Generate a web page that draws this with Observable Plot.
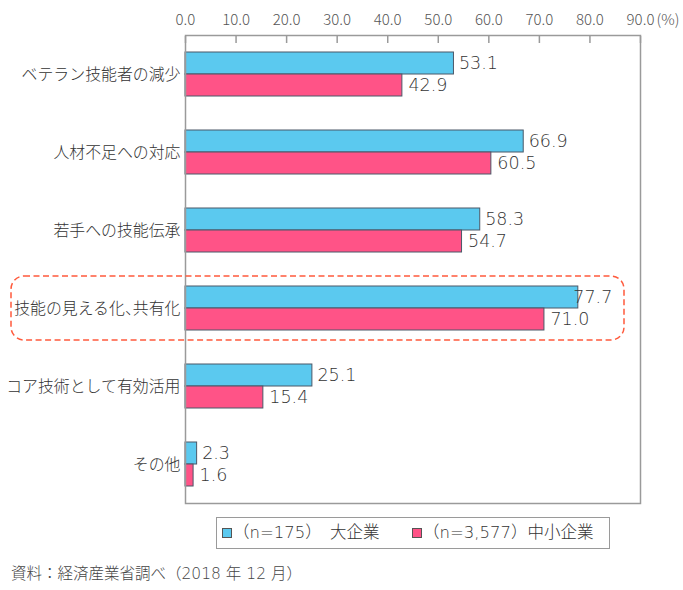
<!DOCTYPE html>
<html><head><meta charset="utf-8">
<script src="https://cdn.jsdelivr.net/npm/d3@7"></script>
<script src="https://cdn.jsdelivr.net/npm/@observablehq/plot@0.6"></script>
<style>
body{margin:0;background:#fff;font-family:"Noto Sans CJK JP","Noto Sans",sans-serif;font-weight:300;}
#wrap{position:relative;width:683px;height:590px;overflow:hidden;}
#chart{position:absolute;left:0;top:0;}
#legend{position:absolute;left:216px;top:517px;width:394px;height:32px;border:1.5px solid #9a9a9a;box-sizing:border-box;}
.item{position:absolute;top:3px;font-size:16.5px;color:#333;line-height:24px;white-space:nowrap;font-family:"DejaVu Sans","Noto Sans CJK JP",sans-serif;font-weight:200;}
.sw{display:inline-block;width:8px;height:8px;border:1px solid #555;margin-right:1px;vertical-align:0px;}
#caption{position:absolute;left:11px;top:561px;font-size:15.5px;color:#444;white-space:nowrap;font-family:"DejaVu Sans","Noto Sans CJK JP",sans-serif;font-weight:200;}
.ylab text{font-feature-settings:"halt";}
</style></head><body>
<div id="wrap">
<div id="chart"></div>
<div id="legend"></div>
<div id="caption">資料：経済産業省調べ（2018 年 12 月）</div>
</div>
<script>
const categories = ["ベテラン技能者の減少","人材不足への対応","若手への技能伝承","技能の見える化、共有化","コア技術として有効活用","その他"];
const largeValues = [53.1, 66.9, 58.3, 77.7, 25.1, 2.3];
const smeValues = [42.9, 60.5, 54.7, 71.0, 15.4, 1.6];
const xTicks = [0, 10, 20, 30, 40, 50, 60, 70, 80, 90];
const xDomain = [0, 90];
const seriesNames = ["（n=175）　大企業", "（n=3,577）中小企業"];
const seriesColors = ["#5bc9ef", "#ff5387"];
const highlighted = "技能の見える化、共有化";

const rows = categories.map((c, i) => ({category: c, large: largeValues[i], sme: smeValues[i]}));
const half = 22;
const txt = "#333";
const font = '"Noto Sans CJK JP","Noto Sans",sans-serif';
const numFont = '"DejaVu Sans","Noto Sans CJK JP",sans-serif';
const numStyle = {textAnchor: "start", fontSize: 17.5, fontFamily: numFont, fontWeight: 200, fill: txt};

const chart = Plot.plot({
  width: 683,
  height: 510,
  marginLeft: 185,
  marginRight: 43,
  marginTop: 35,
  marginBottom: 7,
  style: {fontFamily: font, color: txt, background: "transparent", fontWeight: 300},
  x: {domain: xDomain, axis: null},
  y: {domain: categories, paddingInner: 0.436, paddingOuter: 0.218, axis: null, label: null},
  marks: [
    Plot.barX(rows, {y: "category", x: "large", fill: seriesColors[0], stroke: "#4b5868", strokeWidth: 1, insetBottom: half}),
    Plot.barX(rows, {y: "category", x: "sme", fill: seriesColors[1], stroke: "#4b5868", strokeWidth: 1, insetTop: half}),
    Plot.frame({stroke: "#9a9a9a", strokeWidth: 1.5}),
    Plot.axisX({anchor: "top", label: null, ticks: xTicks, tickFormat: d => d.toFixed(1), tickSize: -7, tickPadding: 18, stroke: "#9a9a9a", strokeWidth: 1.5, fontSize: 15, fill: "#555"}),
    Plot.text([xDomain[1]], {x: d => d, text: () => "(%)", frameAnchor: "top", dy: -11, dx: 16, textAnchor: "start", lineAnchor: "bottom", fontSize: 15, fill: "#555"}),
    Plot.axisY({label: null, tickSize: 0, tickPadding: 5, fontSize: 15.9, fill: txt, className: "ylab"}),
    Plot.text(rows.filter(d => d.category !== highlighted), {y: "category", x: "large", text: d => d.large.toFixed(1), dy: -half / 2, dx: 5, ...numStyle}),
    Plot.text(rows.filter(d => d.category === highlighted), {y: "category", x: "large", text: d => d.large.toFixed(1), dy: -half / 2, dx: -5, ...numStyle}),
    Plot.text(rows, {y: "category", x: "sme", text: d => d.sme.toFixed(1), dy: half / 2, dx: 6, ...numStyle}),
    Plot.barX([highlighted], {y: d => d, x1: xDomain[0], x2: xDomain[1], insetLeft: -174, insetRight: 16, insetTop: -10, insetBottom: -10, rx: 13, fill: "none", stroke: "#ff5a3c", strokeWidth: 1.5, strokeDasharray: "6,3.5"})
  ]
});
document.getElementById("chart").appendChild(chart);

const legend = document.getElementById("legend");
const lefts = [5, 195];
seriesNames.forEach((name, i) => {
  const item = document.createElement("div");
  item.className = "item";
  item.style.left = lefts[i] + "px";
  const sw = document.createElement("span");
  sw.className = "sw";
  sw.style.background = seriesColors[i];
  item.appendChild(sw);
  item.appendChild(document.createTextNode(name));
  legend.appendChild(item);
});
</script>
</body></html>
